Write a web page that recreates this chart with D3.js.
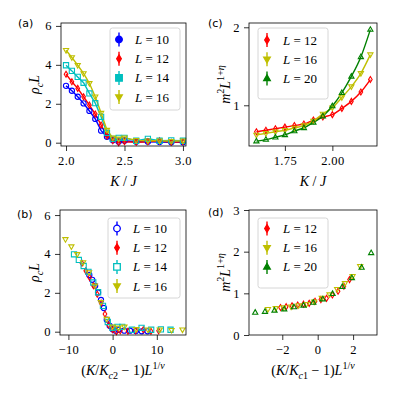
<!DOCTYPE html>
<html>
<head>
<meta charset="utf-8">
<script src="https://cdn.jsdelivr.net/npm/d3@7"></script>
<style>
  body { margin: 0; background: #fff; }
  svg { display: block; }
</style>
</head>
<body>
<div id="chart"></div>
<script>
// ---- data ----
const kA = [2.0, 2.05, 2.1, 2.15, 2.2, 2.25, 2.3, 2.35, 2.4, 2.45, 2.5, 2.6, 2.7, 2.8, 2.9, 3.0];
const rho10 = [2.92, 2.67, 2.36, 2.02, 1.63, 1.22, 0.62, 0.30, 0.12, 0.05, 0.10, 0.05, 0.05, 0.03, 0.02, 0.02];
const rho12 = [3.52, 3.13, 2.79, 2.36, 1.93, 1.47, 0.91, 0.35, 0.10, 0.00, 0.05, 0.02, 0.05, 0.10, 0.02, 0.05];
const rho14 = [3.98, 3.69, 3.38, 3.08, 2.53, 2.03, 1.33, 0.50, 0.20, 0.25, 0.25, 0.10, 0.20, 0.10, 0.12, 0.10];
const rho16 = [4.75, 4.38, 3.98, 3.56, 3.05, 2.36, 1.52, 0.65, 0.25, 0.20, 0.25, 0.12, 0.10, 0.10, 0.08, 0.10];

// scaled abscissa of panel (b)
const xb10 = [-5.27, -4.61, -3.95, -3.29, -2.63, -1.98, -1.32, -0.66, 0, 0.66, 1.32, 2.63, 3.95, 5.27, 6.58, 7.90];
const xb12 = [-6.93, -6.07, -5.20, -4.33, -3.47, -2.60, -1.73, -0.87, 0, 0.87, 1.73, 3.47, 5.20, 6.93, 8.67, 10.4];
const xb14 = [-8.73, -7.64, -6.55, -5.46, -4.37, -3.28, -2.18, -1.09, 0, 1.09, 2.18, 4.37, 6.55, 8.73, 10.92, 13.1];
const xb16 = [-10.67, -9.33, -8.00, -6.67, -5.33, -4.00, -2.67, -1.33, 0, 1.33, 2.67, 5.33, 8.00, 10.67, 13.33, 15.8];

const kC = [1.6, 1.65, 1.7, 1.75, 1.8, 1.85, 1.9, 1.95, 2.0, 2.05, 2.1, 2.15, 2.2];
const m12 = [0.66, 0.68, 0.70, 0.72, 0.74, 0.76, 0.81, 0.85, 0.88, 0.96, 1.05, 1.17, 1.33];
const m16 = [0.62, 0.64, 0.66, 0.68, 0.71, 0.74, 0.80, 0.89, 0.97, 1.10, 1.24, 1.41, 1.65];
const m20 = [0.54, 0.56, 0.59, 0.62, 0.67, 0.71, 0.78, 0.86, 0.99, 1.16, 1.37, 1.62, 1.97];

// scaled abscissa of panel (d)
const xd12 = [-2.10, -1.78, -1.45, -1.13, -0.80, -0.48, -0.15, 0.18, 0.50, 0.83, 1.15, 1.48, 1.80];
const xd16 = [-2.81, -2.37, -1.94, -1.50, -1.07, -0.63, -0.20, 0.23, 0.67, 1.10, 1.54, 1.97, 2.40];
const xd20 = [-3.53, -2.98, -2.44, -1.89, -1.34, -0.80, -0.25, 0.29, 0.84, 1.39, 1.93, 2.48, 3.02];

const ticksAx = [2.0, 2.5, 3.0], ticksAy = [0, 2, 4, 6];
const ticksBx = [-10, 0, 10], ticksBy = [0, 2, 4, 6];
const ticksCx = [1.75, 2.00], ticksCy = [1, 2];
const ticksDx = [-2, 0, 2], ticksDy = [0, 1, 2, 3];

const col = { 10: "#0000ff", 12: "#ff0000", 14: "#00bfbf", 16: "#bfbf00", 20: "#008000" };
const mk = { 10: "circle", 12: "thin_diamond", 14: "square", 16: "tri_down", 20: "tri_up" };

const serif = "'Liberation Serif', 'DejaVu Serif', serif";
const sans = "'DejaVu Sans', sans-serif";

const svg = d3.select("#chart").append("svg")
    .attr("width", 395).attr("height", 395);

// marker path centred at 0,0
function markerPath(type, r) {
    switch (type) {
        case "circle": return d3.symbol(d3.symbolCircle, Math.PI * r * r)();
        case "square": return `M${-r},${-r}H${r}V${r}H${-r}Z`;
        case "thin_diamond": return `M0,${-r * 1.15}L${r * 0.7},0L0,${r * 1.15}L${-r * 0.7},0Z`;
        case "tri_up": return `M0,${-r * 1.1}L${r},${r * 0.65}L${-r},${r * 0.65}Z`;
        case "tri_down": return `M0,${r * 1.1}L${r},${-r * 0.65}L${-r},${-r * 0.65}Z`;
    }
}

// text with italic pieces, sub- and superscripts
function mathText(sel, parts, size) {
    let cur = 0;
    parts.forEach(p => {
        const target = p.pos === "sub" ? size * 0.28 : p.pos === "sup" ? -size * 0.42 : 0;
        sel.append("tspan")
            .attr("dy", target - cur)
            .attr("font-style", p.it ? "italic" : "normal")
            .attr("font-size", p.pos ? size * 0.72 : size)
            .text(p.t);
        cur = target;
    });
}

function panel(o) {
    const g = svg.append("g");
    const x = d3.scaleLinear().domain(o.xdom).range([o.x0, o.x1]);
    const y = d3.scaleLinear().domain(o.ydom).range([o.y1, o.y0]);

    // axes
    const ax = g.append("g").attr("transform", `translate(0,${o.y1})`)
        .call(d3.axisBottom(x).tickValues(o.xt).tickFormat(o.xf).tickSize(5).tickPadding(5));
    const ay = g.append("g").attr("transform", `translate(${o.x0},0)`)
        .call(d3.axisLeft(y).tickValues(o.yt).tickFormat(o.yf).tickSize(5).tickPadding(4));
    [ax, ay].forEach(a => {
        a.select(".domain").remove();
        a.selectAll(".tick line").attr("stroke", "#000").attr("stroke-width", 0.8);
        a.selectAll(".tick text").attr("font-family", serif).attr("font-size", 12.5)
            .attr("letter-spacing", 0.4).attr("fill", "#000");
    });

    // lines
    o.series.forEach(s => {
        if (!o.line) return;
        const pts = s.xs.map((v, i) => [v, s.ys[i]]);
        g.append("path")
            .attr("d", d3.line().x(d => x(d[0])).y(d => y(d[1])).curve(o.curve || d3.curveLinear)(pts))
            .attr("fill", "none").attr("stroke", col[s.L]).attr("stroke-width", 1.4);
    });

    // markers
    o.series.forEach(s => {
        const pts = s.xs.map((v, i) => [v, s.ys[i]]);
        g.append("g").selectAll("path").data(pts).enter().append("path")
            .attr("transform", d => `translate(${x(d[0])},${y(d[1])})`)
            .attr("d", markerPath(mk[s.L], 2.6))
            .attr("fill", "none").attr("stroke", col[s.L]).attr("stroke-width", 1.1);
    });

    // frame
    g.append("rect").attr("x", o.x0).attr("y", o.y0)
        .attr("width", o.x1 - o.x0).attr("height", o.y1 - o.y0)
        .attr("fill", "none").attr("stroke", "#000").attr("stroke-width", 0.8);

    // legend
    const lg = o.legend;
    g.append("rect").attr("x", lg.x).attr("y", lg.y).attr("width", lg.w).attr("height", lg.h)
        .attr("rx", 2.5).attr("fill", "#fff").attr("fill-opacity", 0.85)
        .attr("stroke", "#cccccc").attr("stroke-width", 0.8);
    o.series.forEach((s, i) => {
        const cy = lg.y + lg.first + i * lg.step;
        const hx = lg.x + 9;
        g.append("line").attr("x1", hx).attr("x2", hx).attr("y1", cy - 7).attr("y2", cy + 7)
            .attr("stroke", col[s.L]).attr("stroke-width", 1.4);
        const filled = lg.filled ? lg.filled[i] : true;
        g.append("path").attr("transform", `translate(${hx},${cy})`)
            .attr("d", markerPath(mk[s.L], 3.3))
            .attr("fill", filled ? col[s.L] : "#fff").attr("stroke", col[s.L]).attr("stroke-width", 1.3);
        const t = g.append("text").attr("x", lg.x + 25).attr("y", cy + 4.5)
            .attr("font-family", serif).attr("fill", "#000");
        mathText(t, [{ t: "L", it: true }, { t: " = " + s.L }], 13);
    });

    // panel tag
    g.append("text").attr("x", o.tag[0]).attr("y", o.tag[1])
        .attr("font-family", sans).attr("font-size", 11).attr("fill", "#000").text(o.tagText);

    // axis labels
    const xl = g.append("text").attr("x", (o.x0 + o.x1) / 2).attr("y", o.xlabY)
        .attr("text-anchor", "middle").attr("font-family", serif).attr("fill", "#000");
    mathText(xl, o.xlab, 14);
    const yl = g.append("text")
        .attr("transform", `translate(${o.ylabX},${(o.y0 + o.y1) / 2}) rotate(-90)`)
        .attr("text-anchor", "middle").attr("font-family", serif).attr("fill", "#000");
    mathText(yl, o.ylab, 14);
}

const fmt1 = d3.format(".1f"), fmt2 = d3.format(".2f");
const fmtInt = d => d3.format("d")(d).replace("-", "\u2212");

const rhoLab = [{ t: "\u03c1", it: true }, { t: "c", it: true, pos: "sub" }, { t: "L", it: true }];
const mLab = [{ t: "m", it: true }, { t: "2", pos: "sup" }, { t: "L", it: true }, { t: "1+", pos: "sup" }, { t: "\u03b7", it: true, pos: "sup" }];
const kjLab = [{ t: "K", it: true }, { t: " / " }, { t: "J", it: true }];
const scaled = c => [{ t: "(" }, { t: "K", it: true }, { t: "/" }, { t: "K", it: true },
    { t: "c", it: true, pos: "sub" }, { t: c, pos: "sub" }, { t: " \u2212 1)" }, { t: "L", it: true },
    { t: "1/", pos: "sup" }, { t: "\u03bd", it: true, pos: "sup" }];

// (a)
panel({
    x0: 61, x1: 186, y0: 23, y1: 146,
    xdom: [1.957, 3.026], ydom: [-0.17, 6.15],
    xt: ticksAx, yt: ticksAy, xf: fmt1, yf: fmtInt, line: true,
    series: [
        { L: 10, xs: kA, ys: rho10 }, { L: 12, xs: kA, ys: rho12 },
        { L: 14, xs: kA, ys: rho14 }, { L: 16, xs: kA, ys: rho16 }],
    legend: { x: 110, y: 28, w: 70, h: 82, first: 11.5, step: 19.2 },
    tag: [18, 27], tagText: "(a)",
    xlab: kjLab, xlabY: 186, ylab: rhoLab, ylabX: 39
});

// (c)
panel({
    x0: 249, x1: 377, y0: 23, y1: 146,
    xdom: [1.561, 2.235], ydom: [0.478, 2.055],
    xt: ticksCx, yt: ticksCy, xf: fmt2, yf: fmtInt, line: true, curve: d3.curveMonotoneX,
    series: [{ L: 12, xs: kC, ys: m12 }, { L: 16, xs: kC, ys: m16 }, { L: 20, xs: kC, ys: m20 }],
    legend: { x: 258, y: 28, w: 70, h: 71, first: 12, step: 19.2 },
    tag: [208, 27], tagText: "(c)",
    xlab: kjLab, xlabY: 186, ylab: mLab, ylabX: 230
});

// (b)
panel({
    x0: 60, x1: 186, y0: 210, y1: 335,
    xdom: [-11.9, 16.6], ydom: [-0.17, 6.26],
    xt: ticksBx, yt: ticksBy, xf: fmtInt, yf: fmtInt, line: false,
    series: [
        { L: 10, xs: xb10, ys: rho10 }, { L: 12, xs: xb12, ys: rho12 },
        { L: 14, xs: xb14, ys: rho14 }, { L: 16, xs: xb16, ys: rho16 }],
    legend: { x: 108, y: 218, w: 72, h: 80, first: 10.5, step: 19.2, filled: [false, true, false, true] },
    tag: [17, 218], tagText: "(b)",
    xlab: scaled("2"), xlabY: 375, ylab: rhoLab, ylabX: 39
});

// (d)
panel({
    x0: 249, x1: 377, y0: 210, y1: 335,
    xdom: [-3.88, 3.35], ydom: [0, 3.0],
    xt: ticksDx, yt: ticksDy, xf: fmtInt, yf: fmtInt, line: false,
    series: [{ L: 12, xs: xd12, ys: m12 }, { L: 16, xs: xd16, ys: m16 }, { L: 20, xs: xd20, ys: m20 }],
    legend: { x: 258, y: 218, w: 70, h: 70, first: 10.5, step: 19.2 },
    tag: [208, 216], tagText: "(d)",
    xlab: scaled("1"), xlabY: 375, ylab: mLab, ylabX: 230
});
</script>
</body>
</html>
